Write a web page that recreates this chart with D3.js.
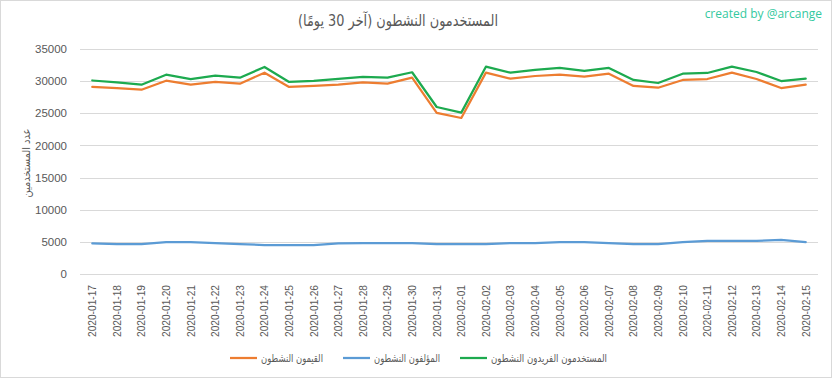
<!DOCTYPE html>
<html><head><meta charset="utf-8">
<script src="https://cdn.jsdelivr.net/npm/d3@7"></script>
<style>
body{margin:0;background:#fff;}
svg{display:block;}
text{font-family:"DejaVu Sans","Noto Sans",sans-serif;}
</style></head><body>
<svg id="c" width="833" height="379"></svg>
<script>
const dates = ["2020-01-17","2020-01-18","2020-01-19","2020-01-20","2020-01-21","2020-01-22","2020-01-23","2020-01-24","2020-01-25","2020-01-26","2020-01-27","2020-01-28","2020-01-29","2020-01-30","2020-01-31","2020-02-01","2020-02-02","2020-02-03","2020-02-04","2020-02-05","2020-02-06","2020-02-07","2020-02-08","2020-02-09","2020-02-10","2020-02-11","2020-02-12","2020-02-13","2020-02-14","2020-02-15"];
const curators = [29100,28900,28670,30070,29450,29870,29600,31320,29090,29250,29450,29820,29600,30540,25050,24270,31320,30380,30800,31000,30700,31160,29250,28980,30180,30330,31320,30330,28930,29450];
const authors = [4750,4650,4650,4950,4950,4800,4650,4500,4500,4500,4750,4800,4800,4800,4650,4650,4650,4800,4800,4950,4950,4800,4650,4650,4950,5150,5150,5150,5300,4950];
const unique = [30100,29800,29450,31000,30330,30850,30540,32200,29870,30050,30350,30650,30540,31380,25980,25100,32250,31320,31740,32050,31580,32050,30180,29710,31160,31270,32250,31420,30020,30380];
const yTicks = [0,5000,10000,15000,20000,25000,30000,35000];
const seriesNames = ["القيمون النشطون","المؤلفون النشطون","المستخدمون الفريدون النشطون"];
const seriesColors = ["#ED7D31","#5B9BD5","#1DAA4F"];
const title = "المستخدمون النشطون (آخر 30 يومًا)";
const yLabel = "عدد المستخدمين";
const watermark = "created by @arcange";

const svg = d3.select("#c");
svg.append("rect").attr("x",0.5).attr("y",0.5).attr("width",831).attr("height",377)
  .attr("fill","#fff").attr("stroke","#d9d9d9");

const L=80, R=818, T=49, B=274;
const x = d3.scaleBand().domain(dates).range([L,R]);
const y = d3.scaleLinear().domain([0,35000]).range([B,T]);

// grid
svg.append("g").selectAll("line").data(yTicks).join("line")
  .attr("x1",L).attr("x2",R).attr("y1",d=>Math.round(y(d))+0.5).attr("y2",d=>Math.round(y(d))+0.5)
  .attr("stroke","#d9d9d9").attr("stroke-width",1);

// y axis
const ya = svg.append("g").attr("transform",`translate(${L},0)`)
  .call(d3.axisLeft(y).tickValues(yTicks).tickSize(0).tickPadding(13).tickFormat(d3.format("d")));
ya.select(".domain").remove();
ya.selectAll("text").attr("fill","#595959").style("font-size","11.5px").style("font-family","'Liberation Sans',Arial,sans-serif");

// x axis
const xa = svg.append("g").attr("transform",`translate(0,${B})`)
  .call(d3.axisBottom(x).tickSize(0).tickPadding(0));
xa.select(".domain").remove();
xa.selectAll("text").attr("fill","#595959").style("font-size","11px").style("font-family","'Liberation Sans',Arial,sans-serif")
  .attr("transform","rotate(-90)").attr("text-anchor","end").attr("dx","-11px").attr("dy","0.35em").attr("y",0)
  .attr("textLength",52).attr("lengthAdjust","spacingAndGlyphs");

// lines
const allSeries=[curators,authors,unique];
const line = d3.line().x((d,i)=>x(dates[i])+x.bandwidth()/2).y(d=>y(d));
[2,0,1].forEach(k=>{
  svg.append("path").datum(allSeries[k]).attr("d",line).attr("fill","none")
    .attr("stroke",seriesColors[k]).attr("stroke-width",2.25).attr("stroke-linejoin","round").attr("stroke-linecap","round");
});

// title
svg.append("text").attr("x",398).attr("y",26).attr("text-anchor","middle").attr("fill","#595959")
  .style("font-size","16px").attr("textLength",200).attr("lengthAdjust","spacingAndGlyphs").text(title);

// watermark
svg.append("text").attr("x",822).attr("y",18).attr("text-anchor","end").attr("fill","#34C9A0")
  .style("font-size","12px").style("font-family","'Open Sans',sans-serif").text(watermark);

// y label
svg.append("text").attr("transform","translate(30,163) rotate(-90)").attr("text-anchor","middle")
  .attr("fill","#595959").style("font-size","11px").attr("textLength",69).attr("lengthAdjust","spacingAndGlyphs").text(yLabel);

// legend
const legX=[230,343,460];
const legW=[62,66,116];
seriesNames.forEach((n,k)=>{
  const g=svg.append("g").attr("transform",`translate(${legX[k]},358)`);
  g.append("line").attr("x1",0).attr("x2",27).attr("stroke",seriesColors[k]).attr("stroke-width",2.25);
  g.append("text").attr("x",31+legW[k]/2).attr("y",4).attr("fill","#595959").style("font-size","11px")
    .attr("text-anchor","middle").attr("textLength",legW[k]).attr("lengthAdjust","spacingAndGlyphs").text(n);
});
</script></body></html>
